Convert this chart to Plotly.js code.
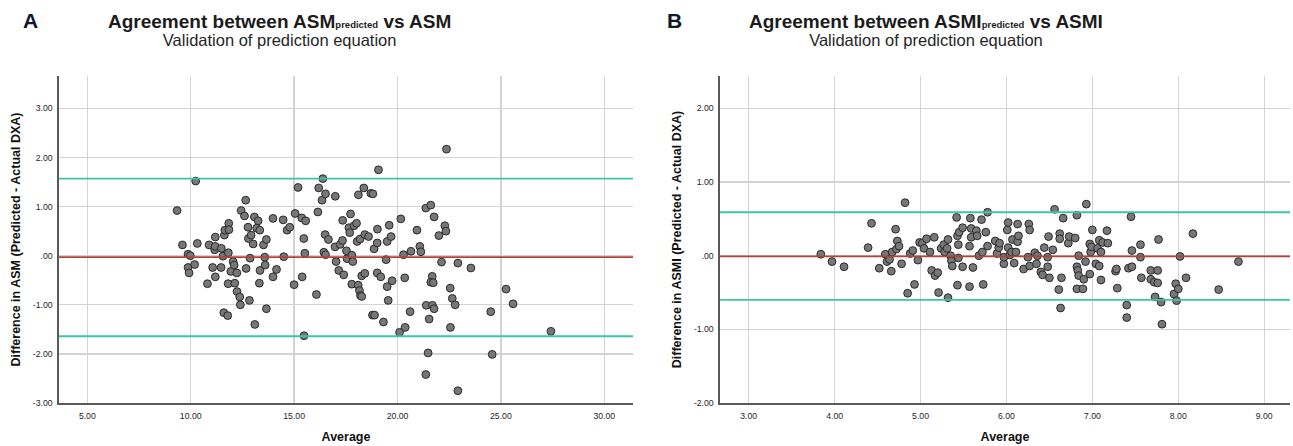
<!DOCTYPE html>
<html>
<head>
<meta charset="utf-8">
<script src="https://cdn.plot.ly/plotly-3.0.1.min.js"></script>
<style>
html,body{margin:0;padding:0;background:#fff;}
#chart{width:1293px;height:446px;}
</style>
</head>
<body>
<div id="chart"></div>
<script>
// ---------- Panel A: ASM ----------
const asmAvg = [9.34,9.60,9.87,9.98,9.87,9.92,10.19,10.24,10.32,10.81,10.89,11.06,11.16,11.18,11.19,11.19,11.47,11.48,11.56,11.60,
  11.63,11.65,11.79,11.82,11.84,11.85,11.81,11.94,12.05,12.10,12.13,12.23,12.24,12.37,12.40,12.44,12.60,12.66,12.68,12.77,
  12.79,12.84,12.87,12.92,13.02,13.08,13.10,13.19,13.26,13.34,13.32,13.35,13.52,13.58,13.60,13.66,13.66,13.98,13.98,14.15,
  14.47,14.50,14.66,14.79,15.00,15.05,15.19,15.37,15.39,15.47,15.48,15.52,15.56,16.08,16.15,16.19,16.35,16.39,16.50,16.52,
  16.44,16.52,16.66,16.98,16.99,17.03,17.16,17.23,17.34,17.35,17.40,17.53,17.56,17.65,17.69,17.73,17.79,17.79,17.84,17.90,
  18.02,18.05,18.10,18.11,18.16,18.19,18.21,18.27,18.27,18.37,18.42,18.42,18.60,18.71,18.81,18.79,18.89,18.87,19.02,19.03,
  19.02,19.08,19.19,19.32,19.45,19.50,19.50,19.55,19.60,19.69,19.74,20.10,20.16,20.29,20.35,20.37,20.61,20.65,20.94,21.08,
  21.13,21.37,21.39,21.48,21.53,21.61,21.68,21.61,21.73,21.69,21.77,21.77,22.00,22.13,22.29,22.34,22.37,22.55,22.56,22.65,
  22.79,22.92,23.55,22.92,24.51,25.25,25.59,24.58,27.42,21.37];
const asmDiff = [0.92,0.22,0.03,0.00,-0.24,-0.35,-0.18,1.52,0.25,-0.57,0.22,-0.24,0.12,0.19,0.38,-0.43,-0.24,0.15,-0.01,-1.16,
  0.42,0.52,-1.22,0.06,0.66,0.53,-0.57,-0.32,-0.12,-0.19,-0.56,-0.35,-0.73,-0.84,-1.00,0.92,0.81,1.13,-0.26,0.58,
  0.35,-0.91,-0.05,0.42,0.24,0.79,-1.40,0.56,0.71,0.52,-0.56,-0.30,0.22,-0.03,-0.19,0.33,-1.08,0.76,-0.43,-0.28,
  0.73,-0.02,0.52,0.58,-0.59,0.86,1.39,0.77,-0.43,0.35,-1.63,0.05,0.71,-0.79,0.89,1.38,1.13,1.57,0.43,1.26,
  0.07,0.02,0.33,0.18,1.21,-0.12,-0.30,0.23,0.31,0.72,-0.39,0.10,-0.06,0.57,0.47,0.85,0.01,-0.58,-0.12,0.61,
  0.66,0.29,-0.60,1.24,-0.71,0.34,-0.81,-0.41,-0.83,1.38,-0.36,0.43,0.39,1.27,1.26,-1.21,-1.21,0.14,0.26,0.54,
  -0.35,1.75,-0.43,-1.35,-0.08,0.29,-0.63,-0.91,0.62,0.39,-0.51,-1.56,0.75,0.02,-0.45,-1.46,-1.14,0.09,0.52,0.19,
  0.08,0.97,-1.01,-1.98,-1.29,1.03,-0.42,-0.54,-0.55,-1.01,-1.08,0.79,0.41,-0.13,0.61,0.50,2.17,-0.66,-1.46,-0.87,
  -1.00,-0.15,-0.25,-2.75,-1.14,-0.68,-0.98,-2.01,-1.54,-2.42];
const asmMean = -0.03, asmUpper = 1.57, asmLower = -1.64;
const asmXTicks = [5,10,15,20,25,30];
const asmXLabels = ['5.00','10.00','15.00','20.00','25.00','30.00'];
const asmYTicks = [-3,-2,-1,0,1,2,3];
const asmYLabels = ['-3.00','-2.00','-1.00','.00','1.00','2.00','3.00'];

// ---------- Panel B: ASMI ----------
const asmiAvg = [3.84,3.97,4.11,4.39,4.43,4.52,4.59,4.61,4.64,4.66,4.67,4.71,4.72,4.73,4.75,4.78,4.82,4.85,4.88,4.91,
  4.93,4.97,4.99,5.02,5.04,5.07,5.11,5.13,5.16,5.17,5.20,5.21,5.24,5.27,5.28,5.31,5.32,5.32,5.35,5.36,
  5.37,5.42,5.43,5.43,5.44,5.44,5.45,5.49,5.49,5.57,5.57,5.58,5.59,5.59,5.61,5.65,5.66,5.68,5.71,5.72,
  5.73,5.76,5.78,5.78,5.87,5.89,5.91,5.92,5.97,5.97,6.01,6.02,6.02,6.04,6.06,6.07,6.09,6.11,6.13,6.13,
  6.14,6.20,6.25,6.26,6.27,6.27,6.33,6.35,6.36,6.40,6.42,6.44,6.48,6.48,6.49,6.50,6.54,6.56,6.61,6.62,
  6.62,6.63,6.64,6.66,6.72,6.73,6.80,6.82,6.82,6.82,6.83,6.84,6.84,6.89,6.90,6.92,6.93,6.97,6.97,6.98,
  6.99,7.00,7.04,7.06,7.08,7.08,7.10,7.10,7.12,7.17,7.18,7.27,7.28,7.29,7.40,7.40,7.42,7.45,7.46,7.46,
  7.56,7.56,7.57,7.68,7.68,7.72,7.76,7.76,7.77,7.73,7.80,7.81,7.95,7.97,7.98,8.00,8.02,8.09,8.17,8.47,8.70];
const asmiDiff = [0.02,-0.08,-0.15,0.11,0.44,-0.17,0.02,-0.08,-0.05,-0.21,0.05,0.36,0.09,0.20,0.13,-0.11,0.72,-0.51,0.03,0.07,
  -0.39,-0.06,0.18,0.17,0.10,0.23,0.05,-0.20,0.25,-0.27,-0.23,-0.50,0.10,0.15,0.05,0.10,0.22,-0.57,0.00,-0.07,
  -0.14,0.52,0.27,-0.40,0.15,-0.03,0.32,-0.15,0.38,0.13,-0.42,0.51,0.25,0.37,-0.16,0.34,0.27,0.00,0.49,0.05,
  -0.39,0.32,0.59,0.13,0.20,0.03,0.11,0.17,-0.11,-0.02,0.35,0.45,0.11,0.01,0.05,0.22,-0.10,0.05,0.43,0.19,
  0.27,-0.18,-0.02,0.43,0.35,-0.14,0.04,-0.11,0.00,-0.22,-0.26,0.11,-0.02,-0.15,0.26,-0.30,0.08,0.63,-0.46,0.30,
  0.23,-0.71,-0.30,0.51,0.17,0.26,0.24,-0.45,0.55,-0.15,-0.20,0.00,-0.27,-0.45,-0.32,-0.08,0.70,-0.25,0.16,0.05,
  0.12,0.35,-0.11,0.10,0.21,-0.14,0.05,-0.33,0.18,0.34,0.17,-0.21,-0.18,-0.44,-0.67,-0.84,-0.17,0.53,-0.15,0.07,
  0.15,-0.02,-0.30,-0.20,-0.32,-0.36,-0.20,-0.37,0.22,-0.56,-0.63,-0.93,-0.52,-0.38,-0.61,-0.45,-0.01,-0.30,0.30,-0.46,-0.08];
const asmiMean = -0.01, asmiUpper = 0.59, asmiLower = -0.60;
const asmiXTicks = [3,4,5,6,7,8,9];
const asmiXLabels = ['3.00','4.00','5.00','6.00','7.00','8.00','9.00'];
const asmiYTicks = [-2,-1,0,1,2];
const asmiYLabels = ['-2.00','-1.00','.00','1.00','2.00'];

// ---------- styles ----------
const FONT = '"Liberation Sans", Arial, sans-serif';
const gridCol = '#d3d3d3';
const teal = '#3cc4a6';
const red = '#b5413b';
const markerStyle = {size: 7.8, color: '#777777', line: {color: '#2a2a2a', width: 1}};

const traces = [
  {x: asmAvg, y: asmDiff, type: 'scatter', mode: 'markers', marker: markerStyle, xaxis: 'x', yaxis: 'y', hoverinfo: 'x+y'},
  {x: asmiAvg, y: asmiDiff, type: 'scatter', mode: 'markers', marker: markerStyle, xaxis: 'x2', yaxis: 'y2', hoverinfo: 'x+y'}
];

function xAxis(domain, range, tv, tt, anchor) {
  return {domain, range, tickvals: tv, ticktext: tt, anchor,
    showgrid: true, gridcolor: gridCol, gridwidth: 1.4, zeroline: false,
    showline: true, linecolor: '#5a5a5a', linewidth: 1.6, ticks: '',
    ticklabelstandoff: 4,
    tickfont: {family: FONT, size: 8.7, color: '#1e1e1e'},
    title: {text: 'Average', font: {family: FONT, size: 12.5, color: '#111', weight: 'bold'}, standoff: 12},
    fixedrange: true};
}
function yAxis(range, tv, tt, anchor, titleText) {
  return {domain: [0, 1], range, tickvals: tv, ticktext: tt, anchor,
    showgrid: true, gridcolor: gridCol, gridwidth: 1.4, zeroline: false,
    showline: true, linecolor: '#5a5a5a', linewidth: 1.6, ticks: '',
    ticklabelstandoff: 3,
    tickfont: {family: FONT, size: 8.7, color: '#1e1e1e'},
    title: {text: titleText, font: {family: FONT, size: 12.5, color: '#111', weight: 'bold'}, standoff: 9},
    fixedrange: true};
}

function hline(xref, yref, y, color) {
  return {type: 'line', xref: xref + ' domain', yref, x0: 0, x1: 1, y0: y, y1: y,
    line: {color, width: 1.8}, layer: 'above'};
}

function titleBlock(main) {
  return '<span style="font-size:19px;color:#1c1c1c"><b>' + main + '</b></span><br>' +
         '<span style="font-size:16.5px;color:#262626">Validation of prediction equation</span>';
}

const layout = {
  width: 1293, height: 446,
  margin: {l: 59, r: 3, t: 76, b: 43},
  paper_bgcolor: '#fff', plot_bgcolor: '#fff',
  showlegend: false,
  font: {family: FONT, color: '#222'},
  xaxis: xAxis([0, 0.4663], [3.63, 31.39], asmXTicks, asmXLabels, 'y'),
  yaxis: yAxis([-3, 3.66], asmYTicks, asmYLabels, 'x', 'Difference in ASM (Predicted - Actual DXA)'),
  xaxis2: xAxis([0.537, 1.0], [2.667, 9.30], asmiXTicks, asmiXLabels, 'y2'),
  yaxis2: yAxis([-2, 2.44], asmiYTicks, asmiYLabels, 'x2', 'Difference in ASMI (Predicted - Actual DXA)'),
  shapes: [
    hline('x', 'y', asmUpper, teal), hline('x', 'y', asmLower, teal), hline('x', 'y', asmMean, red),
    hline('x2', 'y2', asmiUpper, teal), hline('x2', 'y2', asmiLower, teal), hline('x2', 'y2', asmiMean, red)
  ],
  annotations: [
    {text: '<b>A</b>', xref: 'paper', yref: 'paper', x: -0.0234, y: 1.1697, xanchor: 'center', yanchor: 'middle', showarrow: false,
      font: {family: FONT, size: 21, color: '#10182b'}},
    {text: titleBlock('Agreement between ASM<span style="font-size:9.5px">predicted</span> vs ASM'),
      xref: 'paper', yref: 'paper', x: 0.1795, y: 1.2050, xanchor: 'center', yanchor: 'top', align: 'center', showarrow: false,
      font: {family: FONT, size: 14.2, color: '#1c1c1c'}},
    {text: '<b>B</b>', xref: 'paper', yref: 'paper', x: 0.5, y: 1.1697, xanchor: 'center', yanchor: 'middle', showarrow: false,
      font: {family: FONT, size: 21, color: '#10182b'}},
    {text: titleBlock('Agreement between ASMI<span style="font-size:9.5px">predicted</span> vs ASMI'),
      xref: 'paper', yref: 'paper', x: 0.7046, y: 1.2050, xanchor: 'center', yanchor: 'top', align: 'center', showarrow: false,
      font: {family: FONT, size: 14.2, color: '#1c1c1c'}}
  ]
};

Plotly.newPlot('chart', traces, layout, {staticPlot: true, displayModeBar: false});
</script>
</body>
</html>
